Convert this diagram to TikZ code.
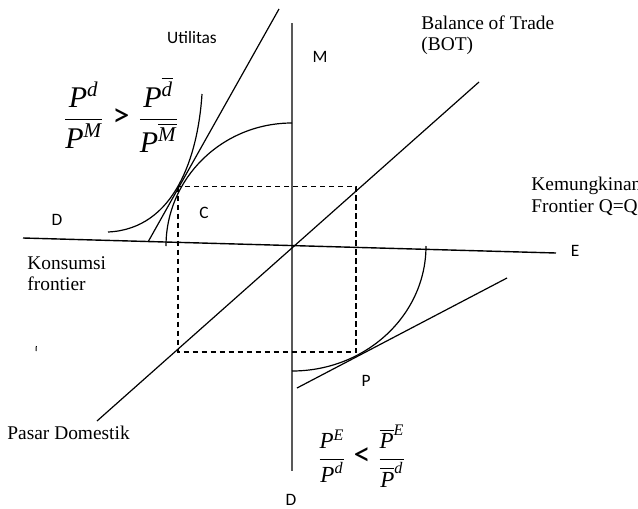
\documentclass[tikz,border=0pt]{standalone}
\usepackage{amsmath}
\usepackage{fontspec}
\setmainfont{Liberation Serif}
\setsansfont{Carlito}
\tikzset{
  axis/.style={line width=1pt,black!65},
  curve/.style={line width=0.6pt},
  guide/.style={line width=0.6pt,dash pattern=on 2.7pt off 1.8pt},
  lbl/.style={font=\fontsize{9.7}{10.8}\selectfont,align=left,inner sep=0pt},
  sflbl/.style={font=\sffamily\fontsize{8.7}{10}\selectfont,inner sep=0pt}
}
\newcommand{\ip}{\textit{P}}
\newcommand{\bigrel}[1]{\mathrel{\text{\sffamily\fontsize{17}{17}\selectfont #1}}}
\begin{document}
\begin{tikzpicture}[x=0.5pt,y=-0.5pt]
\useasboundingbox (0,0) rectangle (638,509);
\clip (0,0) rectangle (638,509);
\coordinate (O) at (292,246);
\draw[axis] (292,23) -- (292,471);
\draw[line width=0.7pt] (23,238) -- (556,253);
\draw[curve] (97,421) -- (479,82);
\draw[guide] (178,186.5) rectangle (356,352);
% consumption side (upper left)
\draw[curve] (148,242) -- (279,9);
\draw[curve] (292,123) arc[start angle=-90, end angle=-180, x radius=126, y radius=123];
\draw[curve] (108,232) .. controls (175,229) and (198,156) .. (202,94);
% production side (lower right)
\draw[curve] (292,371) arc[start angle=90, end angle=0, x radius=134, y radius=125];
\draw[curve] (297,388) -- (507,278);
\draw[line width=0.5pt] (36.3,346) -- (36,351);
\node[sflbl] (util) at (192,38) {Utilitas};
\node[sflbl] (m) at (320,57) {M};
\node[sflbl] (dl) at (57,220) {D};
\node[sflbl] (c) at (204,213) {C};
\node[sflbl] (e) at (575,251) {E};
\node[sflbl] (p) at (366,381) {P};
\node[sflbl] (db) at (291,500) {D};
\node[lbl,anchor=north west] (bot) at (421,15) {Balance of Trade\\(BOT)};
\node[lbl,anchor=north west] (kem) at (531,177) {Kemungkinan\\Frontier Q=Q};
\node[lbl,anchor=north west] (kons) at (27,256) {Konsumsi\\frontier};
\node[lbl,anchor=west] (pasar) at (7,433) {Pasar Domestik};
\node[inner sep=0pt,font=\fontsize{15}{18}\selectfont] (imp) at (121,115)
  {$\dfrac{\ip^{\textit{d}}}{\ip^{\textit{M}}} \bigrel{>} \dfrac{\ip^{\overline{\textit{d}}}}{\ip^{\overline{\textit{M}}}}$};
\node[inner sep=0pt,font=\fontsize{11.5}{14}\selectfont] (exp) at (362,456)
  {$\dfrac{\ip^{\textit{E}}}{\ip^{\textit{d}}} \bigrel{<} \dfrac{\overline{\ip}^{\textit{E}}}{\overline{\ip}^{\textit{d}}}$};
\end{tikzpicture}
\end{document}
